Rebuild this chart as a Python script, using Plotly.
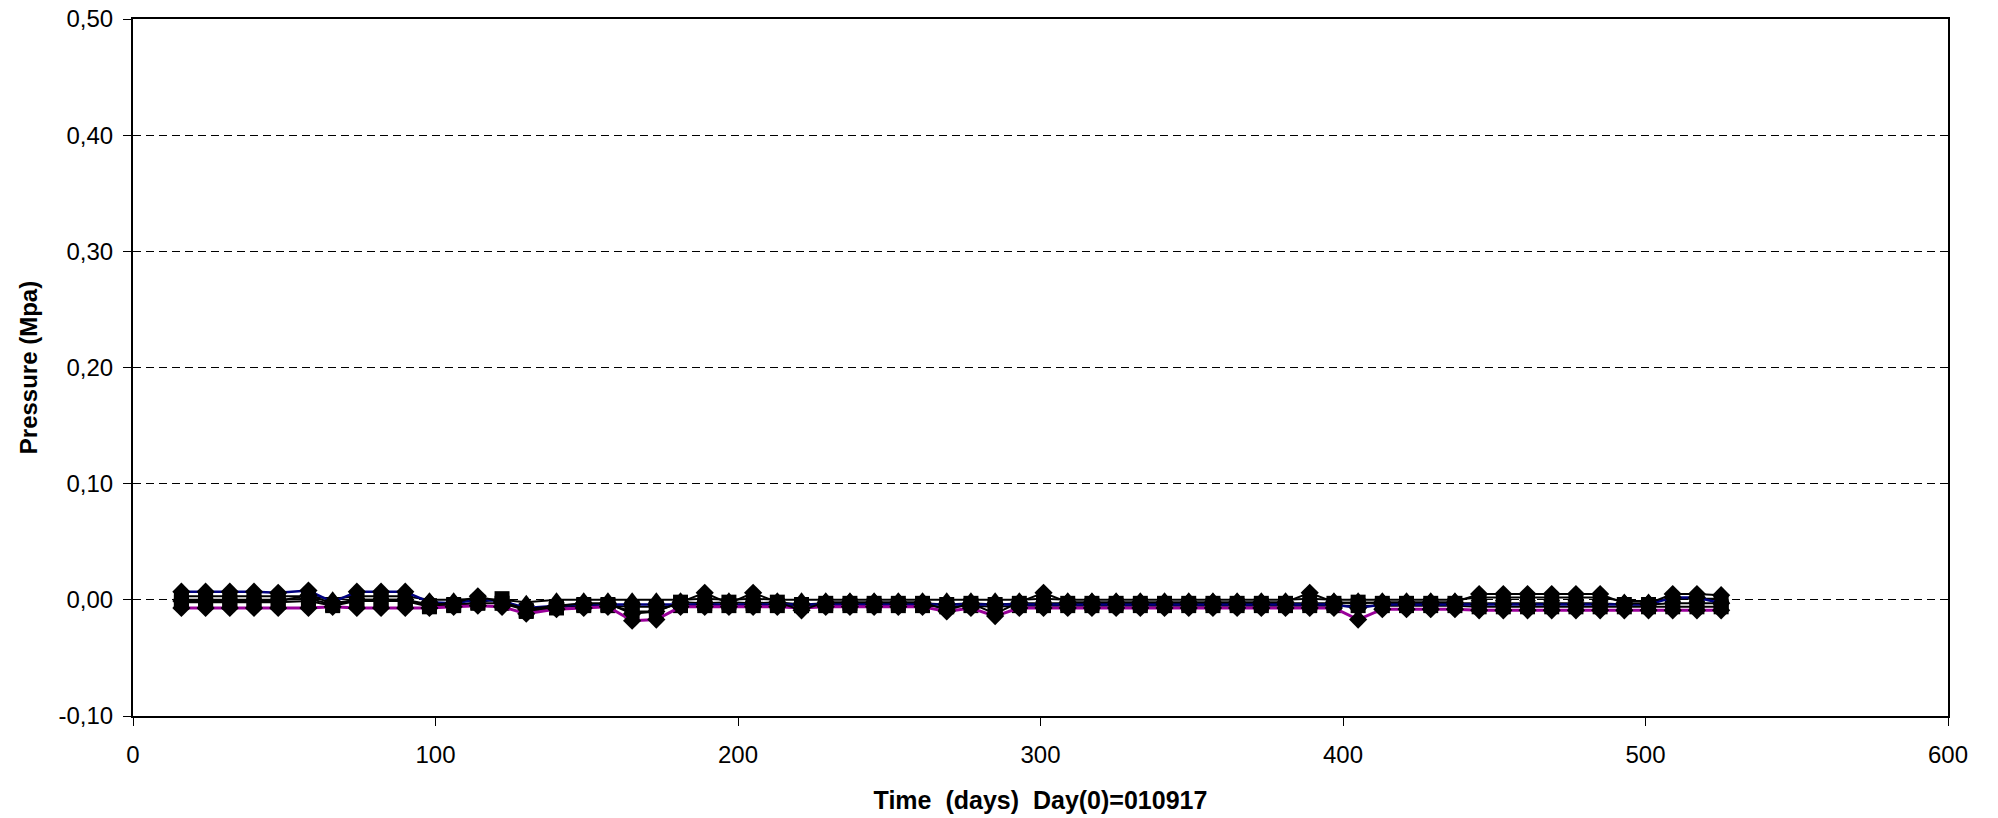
import plotly.graph_objects as go

days = [16, 24, 32, 40, 48, 58, 66, 74, 82, 90, 98, 106, 114, 122, 130, 140, 149, 157,
        165, 173, 181, 189, 197, 205, 213, 221, 229, 237, 245, 253, 261, 269, 277, 285,
        293, 301, 309, 317, 325, 333, 341, 349, 357, 365, 373, 381, 389, 397, 405, 413,
        421, 429, 437, 445, 453, 461, 469, 477, 485, 493, 501, 509, 517, 525]

s_navy = [0.007, 0.007, 0.007, 0.007, 0.006, 0.008, -0.002, 0.007, 0.007, 0.007,
          -0.002, -0.003, 0.000, -0.001, -0.007, -0.005, -0.004, -0.004,
          -0.004, -0.004, -0.004, -0.004, -0.004, -0.004, -0.004, -0.004, -0.004, -0.004,
          -0.004, -0.004, -0.004, -0.004, -0.004, -0.004, -0.004, -0.004, -0.004, -0.004,
          -0.004, -0.004, -0.004, -0.004, -0.004, -0.004, -0.004, -0.004, -0.004, -0.004,
          -0.007, -0.004, -0.004, -0.004, -0.004, -0.004, -0.004, -0.004, -0.004, -0.004,
          -0.004, -0.004, -0.004, 0.002, 0.002, -0.003]

s_purple = [-0.007, -0.007, -0.007, -0.007, -0.007, -0.007, -0.006, -0.007, -0.007, -0.007,
            -0.007, -0.006, -0.005, -0.006, -0.012, -0.008, -0.007, -0.006,
            -0.018, -0.017, -0.006, -0.006, -0.006, -0.006, -0.006, -0.007, -0.006, -0.006,
            -0.006, -0.006, -0.006, -0.010, -0.007, -0.014, -0.007, -0.007, -0.007, -0.007,
            -0.007, -0.007, -0.007, -0.007, -0.007, -0.007, -0.007, -0.007, -0.007, -0.007,
            -0.017, -0.008, -0.008, -0.008, -0.008, -0.009, -0.009, -0.009, -0.009, -0.009,
            -0.009, -0.009, -0.009, -0.009, -0.009, -0.009]

s_tri = [0.003, 0.003, 0.003, 0.003, 0.003, 0.003, 0.001, 0.003, 0.003, 0.003,
         0.000, 0.000, 0.001, 0.000, -0.002, 0.000, 0.000, 0.000,
         0.000, 0.000, 0.000, 0.001, 0.000, 0.001, 0.000, 0.000, 0.000, 0.000,
         0.000, 0.000, 0.000, 0.000, 0.000, 0.000, 0.000, 0.001, 0.000, 0.000,
         0.000, 0.000, 0.000, 0.000, 0.000, 0.000, 0.000, 0.000, 0.001, 0.000,
         0.000, 0.000, 0.000, 0.000, 0.000, 0.002, 0.002, 0.002, 0.002, 0.002,
         0.002, -0.001, -0.001, 0.001, 0.001, 0.001]

s_square = [-0.002, -0.002, -0.002, -0.002, -0.002, -0.001, -0.005, -0.001, -0.001, -0.001,
            -0.006, -0.005, -0.002, 0.001, -0.010, -0.007, -0.004, -0.004,
            -0.010, -0.010, -0.002, -0.003, -0.002, -0.003, -0.002, -0.004, -0.003, -0.003,
            -0.003, -0.003, -0.003, -0.004, -0.003, -0.004, -0.003, -0.003, -0.003, -0.003,
            -0.003, -0.003, -0.003, -0.003, -0.003, -0.003, -0.003, -0.003, -0.003, -0.003,
            -0.002, -0.003, -0.003, -0.003, -0.003, -0.003, -0.003, -0.003, -0.003, -0.003,
            -0.003, -0.004, -0.004, -0.003, -0.003, -0.003]

s_spike = [-0.001, -0.001, -0.001, -0.001, -0.001, 0.004, -0.003, 0.000, 0.000, 0.000,
           -0.004, -0.003, 0.003, -0.002, -0.008, -0.005, -0.003, -0.003,
           -0.012, -0.010, -0.002, 0.006, -0.003, 0.006, -0.002, -0.009, -0.002, -0.002,
           -0.002, -0.002, -0.002, -0.009, -0.003, -0.012, -0.002, 0.006, -0.002, -0.002,
           -0.002, -0.002, -0.002, -0.002, -0.002, -0.002, -0.002, -0.002, 0.006, -0.002,
           -0.003, -0.002, -0.002, -0.002, -0.002, 0.005, 0.005, 0.005, 0.005, 0.005,
           0.005, -0.003, -0.003, 0.005, 0.005, 0.004]

s_low = [0.000, 0.000, 0.000, 0.000, 0.000, 0.001, -0.004, 0.000, 0.000, 0.000,
         -0.005, -0.004, -0.003, -0.003, -0.009, -0.006, -0.005, -0.005,
         -0.006, -0.006, -0.005, -0.005, -0.005, -0.005, -0.005, -0.005, -0.005, -0.005,
         -0.005, -0.005, -0.005, -0.006, -0.005, -0.006, -0.005, -0.005, -0.005, -0.005,
         -0.005, -0.005, -0.005, -0.005, -0.005, -0.005, -0.005, -0.005, -0.005, -0.005,
         -0.005, -0.005, -0.005, -0.005, -0.005, -0.006, -0.006, -0.006, -0.006, -0.006,
         -0.006, -0.006, -0.006, -0.006, -0.006, -0.006]

y_tickvals = [-0.1, 0.0, 0.1, 0.2, 0.3, 0.4, 0.5]
y_ticktext = ["-0,10", "0,00", "0,10", "0,20", "0,30", "0,40", "0,50"]
x_tickvals = [0, 100, 200, 300, 400, 500, 600]
x_ticktext = ["0", "100", "200", "300", "400", "500", "600"]

series = [
    (s_low, "#000000", 2, "square", 15),
    (s_square, "#000000", 2, "square", 15),
    (s_tri, "#000000", 2, "triangle-up", 15),
    (s_navy, "#000080", 2.5, "diamond", 14),
    (s_purple, "#990099", 3, "diamond", 14),
    (s_spike, "#000000", 2, "diamond", 14),
]

fig = go.Figure()
for vals, color, lw, sym, size in series:
    fig.add_trace(go.Scatter(
        x=days, y=vals, mode="lines+markers",
        line=dict(color=color, width=lw),
        marker=dict(symbol=sym, size=size, color="#000000", line=dict(width=0)),
        showlegend=False,
    ))

fig.update_layout(
    width=1998, height=818,
    margin=dict(l=133, r=50, t=19, b=102),
    paper_bgcolor="white", plot_bgcolor="white",
    font=dict(family="Liberation Sans, Arial, sans-serif", size=24, color="black"),
    showlegend=False,
)
fig.update_xaxes(
    range=[0, 600], tickvals=x_tickvals, ticktext=x_ticktext,
    showgrid=False, zeroline=False, automargin=False,
    showline=True, linecolor="black", linewidth=2, mirror=True,
    ticks="outside", ticklen=8, tickcolor="black", tickwidth=1,
    tickfont=dict(size=24), ticklabelstandoff=8, ticklabeloverflow="allow",
    title=dict(text="<b>Time  (days)  Day(0)=010917</b>", font=dict(size=25), standoff=25),
)
fig.update_yaxes(
    range=[-0.1, 0.5], tickvals=y_tickvals, ticktext=y_ticktext,
    showgrid=True, gridcolor="black", griddash="8px,5px", gridwidth=1,
    zeroline=False, automargin=False,
    showline=True, linecolor="black", linewidth=2, mirror=True,
    ticks="outside", ticklen=8, tickcolor="black", tickwidth=1,
    tickfont=dict(size=24), ticklabelstandoff=5, ticklabeloverflow="allow",
    title=dict(text="<b>Pressure (Mpa)</b>", font=dict(size=24), standoff=14),
)

fig.write_html("out.html", config={"displayModeBar": False},
               post_script="document.body.style.margin='0';")
